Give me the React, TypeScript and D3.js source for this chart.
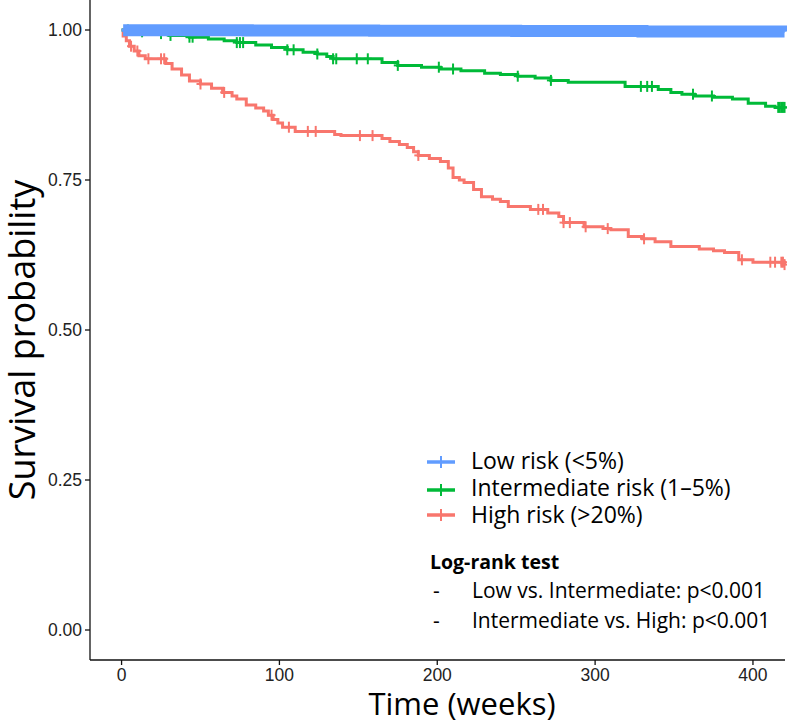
import React from "react";
import * as d3 from "d3";

const W = 787;
const H = 725;
const M = { left: 90, right: 2, top: 0, bottom: 65 };

// survival step points (weeks, probability)
const lowTime = [0, 1, 80, 160, 250, 330, 420];
const lowSurv = [1, 0.9997, 0.9992, 0.9988, 0.9982, 0.9977, 0.9975];

const midTime = [0, 5, 15, 30, 43, 55, 65, 73, 85, 95, 105, 115, 124, 130, 134, 165, 175, 190, 202, 215, 230, 240, 251, 262, 272, 283, 319, 340, 348, 355, 363, 375, 387, 397, 408, 414, 420];
const midSurv = [1, 0.997, 0.994, 0.991, 0.988, 0.985, 0.982, 0.979, 0.975, 0.971, 0.967, 0.963, 0.96, 0.956, 0.952, 0.946, 0.941, 0.938, 0.935, 0.932, 0.928, 0.926, 0.923, 0.92, 0.916, 0.913, 0.906, 0.901, 0.896, 0.893, 0.89, 0.888, 0.885, 0.878, 0.873, 0.871, 0.871];
const midCensor = [4, 13, 25, 31, 43, 45, 73, 75, 77, 105, 109, 124, 134, 136, 149, 156, 175, 201, 210, 251, 272, 329, 333, 336, 362, 374, 416, 417, 418, 419, 420];

const highTime = [0, 1, 3, 5, 8, 11, 15, 28, 32, 38, 43, 50, 57, 64, 70, 73, 79, 85, 90, 93, 96, 99, 102, 110, 135, 139, 165, 170, 176, 181, 185, 188, 195, 202, 207, 210, 214, 217, 223, 228, 235, 240, 245, 259, 270, 277, 280, 293, 305, 310, 321, 330, 338, 348, 366, 375, 382, 391, 400, 420];
const highSurv = [1, 0.99, 0.982, 0.973, 0.965, 0.957, 0.952, 0.944, 0.935, 0.925, 0.915, 0.91, 0.903, 0.896, 0.89, 0.885, 0.875, 0.87, 0.865, 0.858, 0.851, 0.845, 0.838, 0.831, 0.826, 0.824, 0.819, 0.814, 0.809, 0.804, 0.797, 0.791, 0.786, 0.781, 0.77, 0.754, 0.75, 0.746, 0.734, 0.722, 0.718, 0.714, 0.706, 0.701, 0.695, 0.689, 0.679, 0.672, 0.669, 0.667, 0.656, 0.652, 0.647, 0.639, 0.635, 0.632, 0.629, 0.617, 0.613, 0.609];
const highCensor = [6, 10, 17, 25, 27, 50, 65, 95, 106, 118, 123, 151, 159, 188, 264, 267, 280, 284, 294, 308, 331, 393, 411, 414, 418, 419, 420];

const xTicks = [0, 100, 200, 300, 400];
const yTicks = [0, 0.25, 0.5, 0.75, 1];

const legendLabels = ["Low risk (<5%)", "Intermediate risk (1\u20135%)", "High risk (>20%)"];
const legendColors = ["#619CFF", "#00BA38", "#F8766D"];
const testLines = ["Low vs. Intermediate: p<0.001", "Intermediate vs. High: p<0.001"];

const TITLE_FONT = "'Open Sans', Lato, sans-serif";
const TICK_FONT = "'Liberation Sans', Arial, sans-serif";

function survAt(times: number[], surv: number[], t: number) {
  const i = d3.bisectRight(times, t) - 1;
  return surv[Math.max(0, i)];
}

export default function App() {
  const x = d3.scaleLinear().domain([-20, 420.3]).range([M.left, W - M.right]);
  const y = d3.scaleLinear().domain([-0.05, 1.05]).range([H - M.bottom, M.top]);

  const line = (times: number[], surv: number[]) =>
    d3
      .line<number>()
      .x((_, i) => x(times[i]))
      .y((d) => y(d))
      .curve(d3.curveStepAfter)(surv)!;

  const cross = (cx: number, cy: number, color: string, key: string) => (
    <g key={key} stroke={color} strokeWidth={2}>
      <line x1={cx} x2={cx} y1={cy - 5.5} y2={cy + 5.5} />
      <line x1={cx - 4} x2={cx + 4} y1={cy} y2={cy} />
    </g>
  );

  const y0 = H - M.bottom;

  return (
    <svg
      width={W}
      height={H}
      style={{ position: "absolute", left: 0, top: 0, background: "#fff" }}
    >
      {/* curves */}
      <path d={line(highTime, highSurv)} fill="none" stroke={legendColors[2]} strokeWidth={3} />
      {highCensor.map((t, i) =>
        cross(x(t), y(survAt(highTime, highSurv, t)), legendColors[2], "h" + i)
      )}
      <path d={line(midTime, midSurv)} fill="none" stroke={legendColors[1]} strokeWidth={3} />
      {midCensor.map((t, i) =>
        cross(x(t), y(survAt(midTime, midSurv, t)), legendColors[1], "m" + i)
      )}
      <path d={line(lowTime, lowSurv)} fill="none" stroke={legendColors[0]} strokeWidth={3} />
      {/* dense censoring of the low risk group forms a solid band */}
      <path
        d={line(lowTime.slice(1), lowSurv.slice(1))}
        fill="none"
        stroke={legendColors[0]}
        strokeWidth={12}
      />

      {/* axes */}
      <g stroke="#111" strokeWidth={1.3}>
        <line x1={M.left} x2={M.left} y1={0} y2={y0} />
        <line x1={M.left} x2={W - M.right} y1={y0} y2={y0} />
        {yTicks.map((t) => (
          <line key={"yt" + t} x1={M.left - 5} x2={M.left} y1={y(t)} y2={y(t)} />
        ))}
        {xTicks.map((t) => (
          <line key={"xt" + t} x1={x(t)} x2={x(t)} y1={y0} y2={y0 + 5} />
        ))}
      </g>
      <g fontFamily={TICK_FONT} fill="#222">
        {yTicks.map((t) => (
          <text key={"yl" + t} x={M.left - 8} y={y(t)} dy="0.36em" textAnchor="end" fontSize={17.5}>
            {d3.format(".2f")(t)}
          </text>
        ))}
        {xTicks.map((t) => (
          <text key={"xl" + t} x={x(t)} y={y0 + 21} textAnchor="middle" fontSize={17.5}>
            {t}
          </text>
        ))}
      </g>

      {/* axis titles */}
      <text
        x={462}
        y={715}
        textAnchor="middle"
        fontFamily={TITLE_FONT}
        fontSize={31}
        fill="#000"
      >
        Time (weeks)
      </text>
      <text
        transform="translate(35,340) rotate(-90)"
        textAnchor="middle"
        fontFamily={TITLE_FONT}
        fontSize={36}
        fill="#000"
      >
        Survival probability
      </text>

      {/* legend */}
      <g fontFamily={TITLE_FONT} fill="#000">
        {legendLabels.map((lab, i) => {
          const ly = [462, 490, 515][i];
          return (
            <g key={lab}>
              <line x1={427} x2={455} y1={ly} y2={ly} stroke={legendColors[i]} strokeWidth={3.5} />
              <line x1={441} x2={441} y1={ly - 6} y2={ly + 6} stroke={legendColors[i]} strokeWidth={2} />
              <text x={471} y={[469, 496, 523][i]} fontSize={23}>
                {lab}
              </text>
            </g>
          );
        })}
        <text x={430} y={569} fontSize={19.5} fontWeight="bold">
          Log-rank test
        </text>
        {testLines.map((s, i) => (
          <g key={s}>
            <text x={433} y={598 + i * 30} fontSize={21}>
              -
            </text>
            <text x={472} y={598 + i * 30} fontSize={21}>
              {s}
            </text>
          </g>
        ))}
      </g>
    </svg>
  );
}
